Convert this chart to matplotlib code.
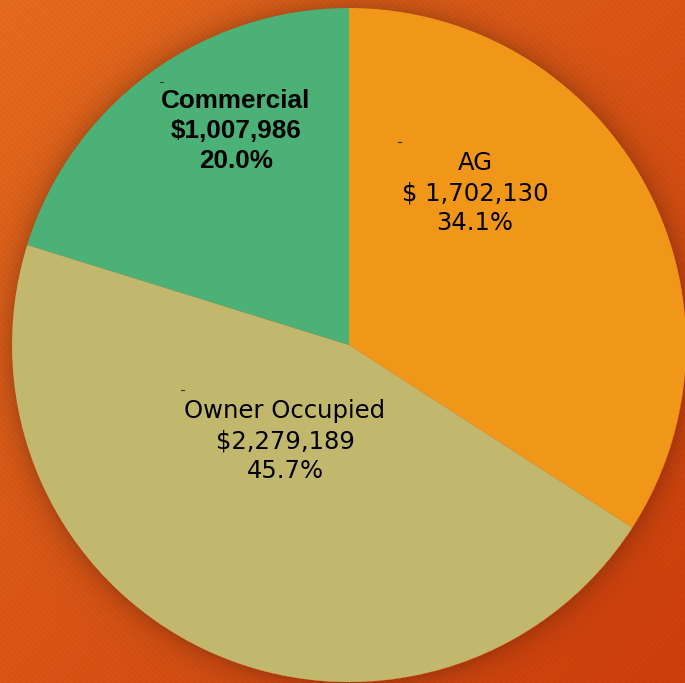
#pie of program dollars by category
import numpy as np
import matplotlib.pyplot as plt

categories = ['AG', 'Owner Occupied', 'Commercial']
amounts = [1702130, 2279189, 1007986]
amount_labels = ['$ 1,702,130', '$2,279,189', '$1,007,986']
pct_labels = ['34.1%', '45.7%', '20.0%']
colors = ['#F09619', '#C1B86E', '#4BB176']

W, H = 685, 683
cx, cy, r = 349, 683 - 345, 337

fig = plt.figure(figsize=(W / 100, H / 100), dpi=100)

##################
##background img##
##################
bg = fig.add_axes([0, 0, 1, 1])
yy, xx = np.mgrid[0:H, 0:W]
t = (xx + yy) / float(W + H)
c0 = np.array([228, 106, 30]) / 255.0
c1 = np.array([204, 62, 12]) / 255.0
img = c0[None, None, :] * (1 - t[..., None]) + c1[None, None, :] * t[..., None]
# faint diagonal stripes
stripe = 0.018 * np.sin(2 * np.pi * (xx - yy) / 6.0)
img = img * (1 + stripe[..., None])
# soft shadow around pie
d = np.sqrt((xx - cx) ** 2 + (yy - 345) ** 2)
shade = np.where(d > r, 1 - 0.2 * np.exp(-(d - r) / 14.0), 1.0)
img = np.clip(img * shade[..., None], 0, 1)
bg.imshow(img, extent=[0, W, 0, H], origin='upper', aspect='auto')
bg.set_xlim(0, W)
bg.set_ylim(0, H)
bg.axis('off')

#######
##pie##
#######
ax = fig.add_axes([0, 0, 1, 1])
ax.patch.set_alpha(0)
ax.pie(amounts, colors=colors, startangle=90, counterclock=False,
       center=(cx, cy), radius=r, wedgeprops=dict(linewidth=0))
ax.set_xlim(0, W)
ax.set_ylim(0, H)
ax.set_aspect('auto')
ax.axis('off')

# label positions (pixel coords from top)
pos = [(475, 193), (285, 441), (236, 131)]
for i in range(len(categories)):
    x, y = pos[i]
    txt = categories[i] + '\n' + amount_labels[i] + '\n' + pct_labels[i]
    if categories[i] == 'Commercial':
        ax.text(x, H - y, txt, ha='center', va='center', fontsize=18.8,
                fontweight='bold', family='Liberation Sans', linespacing=1.32)
    else:
        ax.text(x, H - y, txt, ha='center', va='center', fontsize=17.5,
                family='DejaVu Sans', linespacing=1.3)

# little leader stubs left over next to the labels
for x, y in [(162, 82), (400, 142), (183, 390)]:
    ax.plot([x - 1.5, x + 1.5], [H - y, H - y], color='#333333', lw=0.8)

plt.savefig('out.png', dpi=100)
plt.close()
